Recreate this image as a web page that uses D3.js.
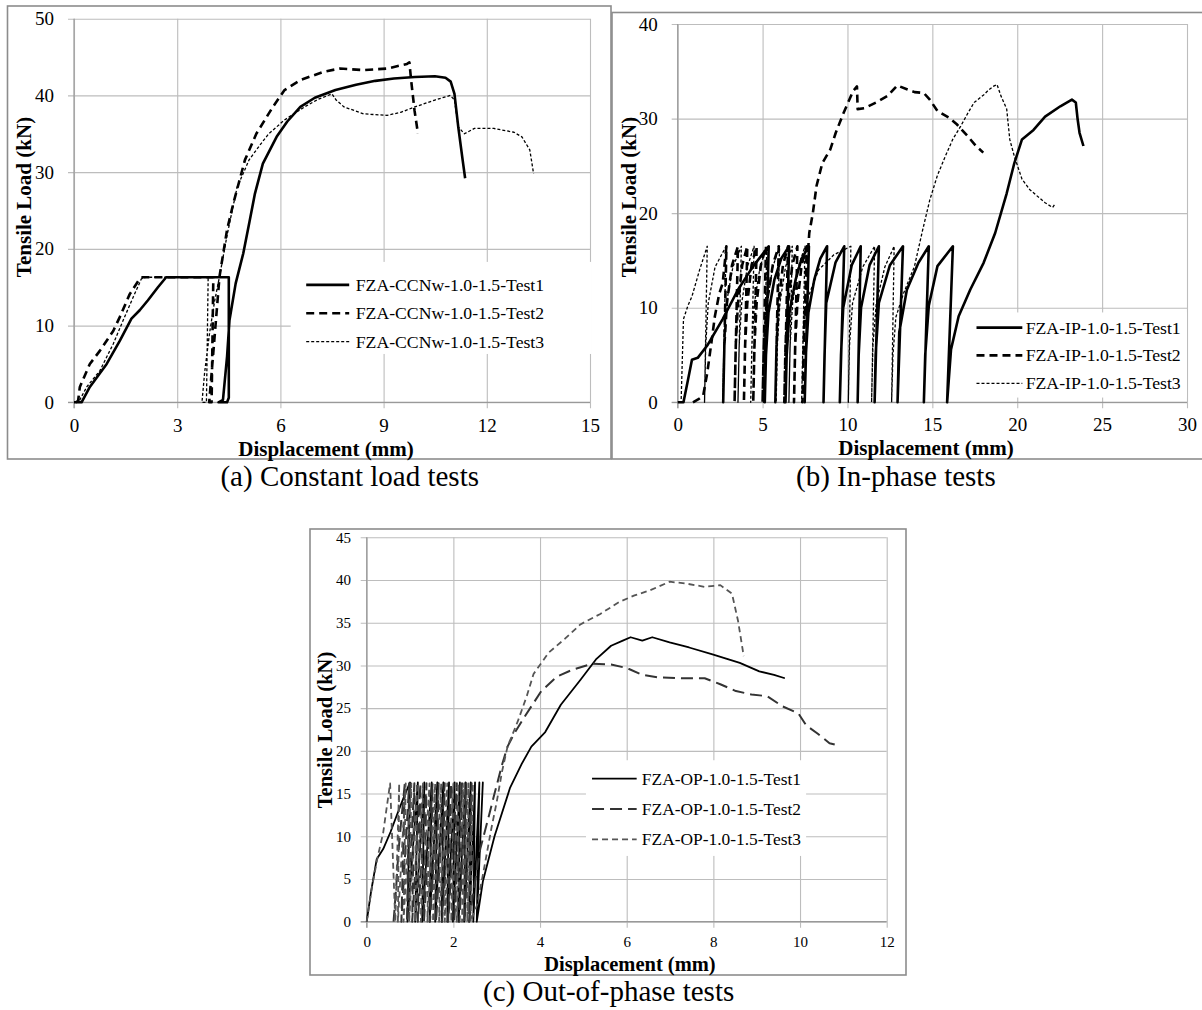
<!DOCTYPE html>
<html><head><meta charset="utf-8">
<script src="https://cdn.jsdelivr.net/npm/d3@7"></script>
<style>body{margin:0;background:#fff}svg{display:block}svg text{font-family:"Liberation Serif","Times New Roman","DejaVu Serif",serif !important;fill:#000}</style>
</head><body><svg id="c" width="1202" height="1010"></svg>
<script>
// ---------------- DATA ----------------
const seriesNamesA = ["FZA-CCNw-1.0-1.5-Test1","FZA-CCNw-1.0-1.5-Test2","FZA-CCNw-1.0-1.5-Test3"];
const seriesNamesB = ["FZA-IP-1.0-1.5-Test1","FZA-IP-1.0-1.5-Test2","FZA-IP-1.0-1.5-Test3"];
const seriesNamesC = ["FZA-OP-1.0-1.5-Test1","FZA-OP-1.0-1.5-Test2","FZA-OP-1.0-1.5-Test3"];
const captions = ["(a) Constant load tests","(b) In-phase tests","(c) Out-of-phase tests"];
const xTicksA = [0,3,6,9,12,15], yTicksA = [0,10,20,30,40,50];
const xTicksB = [0,5,10,15,20,25,30], yTicksB = [0,10,20,30,40];
const xTicksC = [0,2,4,6,8,10,12], yTicksC = [0,5,10,15,20,25,30,35,40,45];
const axisTitleX = "Displacement (mm)", axisTitleY = "Tensile Load (kN)";

const A_test1 = [[0,0],[0.22,0],[0.46,2],[0.95,5],[1.33,8],[1.67,10.9],[1.91,12],[2.15,13.3],[2.44,15],[2.68,16.3],[4.5,16.3],[4.5,0.6],[4.45,0],[4.2,0],[4.33,0.3],[4.45,6],[4.52,10.7],[4.7,15.5],[4.92,19.4],[5.1,23.5],[5.26,27.2],[5.49,31.1],[5.89,34.6],[6.2,36.6],[6.58,38.5],[7.0,39.7],[7.6,40.7],[8.2,41.4],[8.76,41.9],[9.3,42.2],[9.91,42.4],[10.49,42.5],[10.8,42.3],[10.95,41.8],[11.06,40.2],[11.17,35.9],[11.3,31.5],[11.37,29.2]];
const A_test2 = [[0.05,0],[0.12,0.2],[0.17,2],[0.46,5],[0.75,6.7],[1.14,9.3],[1.33,11.1],[1.62,14.1],[1.91,16.1],[2.0,16.3],[4.05,16.3],[4.0,0],[3.93,0],[4.05,6.5],[4.23,16.4],[4.45,22.5],[4.63,25.9],[4.97,31.6],[5.3,35],[5.78,38.5],[6.12,40.7],[6.58,42],[7.27,43.1],[7.73,43.5],[8.42,43.3],[9.1,43.5],[9.68,44.1],[9.75,44.3],[9.8,42],[9.9,38],[10.0,35]];
const A_test3 = [[0.05,0],[0.13,0],[0.37,2],[0.75,4.1],[1.14,7.6],[1.43,10.7],[1.72,13.7],[1.96,16.1],[2.1,16.3],[3.9,16.3],[3.85,0],[3.72,0],[3.8,4],[3.94,9],[4.08,13],[4.23,16.4],[4.46,22],[4.74,28],[5.09,31.6],[5.4,33.5],[5.66,35],[6.12,36.8],[6.7,38.5],[7.1,39.5],[7.5,40.2],[7.62,39.4],[7.85,38.5],[8.42,37.6],[9.1,37.4],[9.5,37.8],[9.91,38.5],[10.49,39.4],[10.94,40],[11.06,39.4],[11.17,35.9],[11.35,35],[11.64,35.7],[12.2,35.7],[12.79,35.2],[13.02,34.6],[13.25,32.9],[13.36,29.8]];

const B_test1 = [[0,0],[0.34,0],[0.61,2.4],[0.84,4.5],[1.18,4.7],[1.74,6],[2.65,8.8],[3.55,11.9],[4.45,14.4],[5.36,16.5],
[5.13,0],[5.2,5],[5.35,9.5],[5.7,13],[6.1,15.2],[6.56,16.5],
[6.35,0],[6.42,5],[6.58,9.5],[6.95,13],[7.3,15.2],[7.73,16.5],
[7.48,0],[7.55,5],[7.7,9.5],[8.05,13],[8.4,15.2],[8.8,16.5],
[8.59,0],[8.65,5],[8.75,10.5],[9.3,14.8],[9.81,16.5],
[9.55,0],[9.62,5],[9.75,10],[10.25,14.5],[10.78,16.5],
[10.6,0],[10.66,5],[10.8,10],[11.3,14.5],[11.85,16.5],
[11.6,0],[11.66,5],[11.85,10.5],[12.5,14.5],[13.27,16.5],
[12.95,0],[13.05,7.4],[13.5,11.9],[14.18,14.75],[14.79,16.5],
[14.5,0],[14.58,5],[14.79,10.2],[15.3,14.4],[16.21,16.5],
[15.87,0],[16.1,5.6],[16.55,9.1],[17.23,11.9],[18.02,14.75],[18.7,17.9],[19.38,22.1],[19.83,25.3],[20.28,27.8],[20.96,28.8],[21.64,30.2],[22.54,31.3],[23.22,32],[23.45,31.7],[23.56,29.9],[23.67,28.5],[23.9,27.1]];
const B_test2 = [[0.9,0],[1.2,0.3],[1.5,0.7],[1.74,3.1],[2.0,6.5],[2.19,9.1],[2.45,11.5],[2.65,12.6],[2.87,16.5],
[2.68,0],[2.75,6],[2.9,10.5],[3.2,14.5],[3.55,16.5],
[3.35,0],[3.42,6],[3.55,10.5],[3.8,14.5],[4.1,16.5],
[3.9,0],[3.97,6],[4.1,10.5],[4.35,14.5],[4.65,16.5],
[4.45,0],[4.52,6],[4.65,10.5],[4.9,14.5],[5.2,16.5],
[5.0,0],[5.07,6],[5.25,10.5],[5.6,14.5],[5.95,16.5],
[5.75,0],[5.82,6],[5.95,10.5],[6.2,14.5],[6.5,16.5],
[6.28,0],[6.35,6],[6.5,10.5],[6.75,14.5],[7.05,16.5],
[6.85,0],[6.92,6],[7.05,10.5],[7.3,14.5],[7.6,16.5],
[7.35,0],[7.45,8],[7.6,14],[7.75,17.9],[7.96,20],[8.18,22.9],[8.52,25.3],[8.98,26.7],[9.31,28.5],[9.77,30.6],[10.33,32.9],[10.56,33.4],[10.6,31],[11.0,31.1],[11.69,31.7],[12.37,32.4],[12.93,33.5],[13.5,33.1],[13.95,32.8],[14.5,32.7],[14.85,32],[15.3,30.8],[15.98,30.1],[16.44,29.4],[17.1,28.1],[17.57,27.1],[18.0,26.4]];
const B_test3 = [[0.1,0],[0.2,0],[0.34,8.8],[0.6,10.2],[0.84,11.2],[1.29,14],[1.74,16.5],
[1.58,0],[1.65,6],[1.8,10.5],[2.2,14.3],[2.85,16.5],
[2.65,0],[2.72,6],[2.87,10.5],[3.25,14.3],[3.75,16.5],
[3.55,0],[3.62,6],[3.77,10.5],[4.1,14.3],[4.5,16.5],
[4.3,0],[4.37,6],[4.52,10.5],[4.85,14.3],[5.25,16.5],
[5.05,0],[5.12,6],[5.27,10.5],[5.6,14.3],[6.0,16.5],
[5.8,0],[5.87,6],[6.02,10.5],[6.35,14.3],[6.75,16.5],
[6.55,0],[6.62,6],[6.77,10.5],[7.1,14.3],[7.5,16.5],
[7.3,0],[7.37,6],[7.55,10.5],[8.3,14],[9.2,15.6],[10.2,16.5],
[10.05,0],[10.12,6],[10.3,10.5],[10.9,14.3],[11.6,16.5],
[11.42,0],[11.5,6],[11.7,10.5],[12.2,14.3],[12.75,16.5],
[12.6,0],[12.68,5],[12.85,9],[13.3,11.5],[13.95,14.4],[14.4,18],[14.85,21.4],[15.3,24],[15.76,26],[16.2,27.8],[16.67,29.2],[17.1,30.6],[17.46,31.7],[18.02,32.5],[18.3,33],[18.58,33.4],[18.81,33.6],[19.04,32.4],[19.38,31],[19.56,27.8],[19.83,26],[20.28,23.6],[20.73,22.5],[21.18,21.8],[21.64,21.1],[22.09,20.6],[22.2,20.9]];

const C_test1 = [[0,0],[0.1,3.5],[0.23,7.3],[0.38,8.5],[0.55,10.5],[0.69,12.4],[0.85,14.5],[1.0,16.3],
[0.94,0],[1.18,16.3],[1.12,0],[1.33,16.3],[1.28,0],[1.5,16.3],[1.45,0],[1.63,16.3],[1.58,0],[1.77,16.3],[1.73,0],[1.9,16.3],[1.86,0],[2.03,16.3],[1.99,0],[2.15,16.3],[2.12,0],[2.28,16.3],[2.25,0],[2.4,16.3],[2.37,0],[2.5,16.3],[2.46,0],[2.6,16.3],[2.54,0],[2.68,16.3],
[2.54,0],[2.68,4.7],[2.95,10],[3.31,15.7],[3.58,18.5],[3.8,20.5],[4.12,22.2],[4.48,25.4],[4.93,28.3],[5.29,30.7],[5.64,32.3],[5.91,32.9],[6.09,33.3],[6.36,32.9],[6.59,33.3],[6.99,32.7],[7.44,32.1],[7.98,31.3],[8.61,30.3],[9.06,29.3],[9.4,28.9],[9.65,28.5]];
const C_test2 = [[0.62,0],[0.68,4],[0.73,8],[0.8,12],[0.88,16.2],[0.8,0],[0.98,16.2],[0.93,0],[1.1,16.2],[1.05,0],[1.24,16.2],[1.18,0],[1.38,16.2],[1.32,0],[1.52,16.2],[1.46,0],[1.66,16.2],[1.6,0],[1.8,16.2],[1.74,0],[1.95,16.2],[1.88,0],[2.08,16.2],[2.02,0],[2.2,16.2],[2.14,0],[2.3,16.2],[2.26,0],[2.42,16.2],[2.36,0],
[2.48,4],[2.62,8.5],[2.8,12],[2.95,15],[3.13,18.5],[3.25,20.5],[3.4,22],[3.67,24.2],[4.03,27],[4.39,28.7],[4.75,29.5],[5.2,30.2],[5.64,30.1],[6.0,29.7],[6.36,28.9],[6.72,28.6],[7.26,28.5],[7.8,28.5],[8.16,27.8],[8.52,27],[8.88,26.6],[9.24,26.4],[9.6,25.2],[9.96,24.4],[10.14,23],[10.41,22],[10.68,20.9],[10.9,20.6]];
const C_test3 = [[0,0],[0.12,4],[0.25,7.5],[0.38,10.4],[0.54,16.2],[0.66,0],[0.75,16.2],[0.72,0],[0.9,16.2],[0.85,0],[1.03,16.2],[0.98,0],[1.16,16.2],[1.12,0],[1.3,16.2],[1.25,0],[1.45,16.2],[1.4,0],[1.58,16.2],[1.53,0],[1.72,16.2],[1.67,0],[1.86,16.2],[1.8,0],[2.0,16.2],[1.95,0],[2.12,16.2],[2.08,0],[2.25,16.2],[2.2,0],[2.35,16.2],[2.32,0],[2.45,16.2],[2.4,0],
[2.55,2],[2.7,6],[2.88,11],[3.0,14],[3.12,17.5],[3.25,20.5],[3.49,23.5],[3.7,26.5],[3.85,29],[4.2,31.5],[4.57,33.1],[4.93,34.8],[5.38,36],[5.82,37.4],[6.18,38.2],[6.54,38.8],[6.99,39.8],[7.35,39.6],[7.8,39.2],[8.16,39.4],[8.43,38.4],[8.57,35.2],[8.7,31.1]];

// ---------------- DRAWING ----------------
const FONT = '"Liberation Serif","Times New Roman","DejaVu Serif",serif';
const svg = d3.select("#c");
svg.append("rect").attr("width",1202).attr("height",1010).attr("fill","#fff");

const styleAB = [
  {stroke:"#000", w:2.6, dash:null},
  {stroke:"#000", w:2.6, dash:"8,5"},
  {stroke:"#000", w:1.3, dash:"3,2"}
];
const styleC = [
  {stroke:"#000", w:1.8, dash:null},
  {stroke:"#333", w:2.0, dash:"12,6"},
  {stroke:"#555", w:1.8, dash:"6,4"}
];

function panel(cfg){
  const g = svg.append("g").attr("font-family",FONT);
  g.append("rect").attr("x",cfg.frame[0]).attr("y",cfg.frame[1]).attr("width",cfg.frame[2]).attr("height",cfg.frame[3])
    .attr("fill","none").attr("stroke","#8c8c8c").attr("stroke-width",1.6);
  const x = d3.scaleLinear().domain(cfg.xDom).range(cfg.xr);
  const y = d3.scaleLinear().domain(cfg.yDom).range(cfg.yr);
  const pw = cfg.xr[1]-cfg.xr[0], ph = cfg.yr[0]-cfg.yr[1];
  const ya = g.append("g").attr("transform",`translate(${cfg.xr[0]},0)`)
    .call(d3.axisLeft(y).tickValues(cfg.yTicks).tickSizeInner(-pw).tickSizeOuter(0).tickPadding(cfg.ypad));
  ya.attr("font-family",FONT).attr("font-size",cfg.tickFs);
  ya.select(".domain").remove();
  ya.selectAll(".tick line").attr("x1",-6).attr("stroke","#bdbdbd").attr("stroke-width",1.1);
  ya.selectAll(".tick text").style("font-family",FONT).style("font-size",cfg.tickFs+"px").attr("fill","#000");
  const xa = g.append("g").attr("transform",`translate(0,${cfg.yr[0]})`)
    .call(d3.axisBottom(x).tickValues(cfg.xTicks).tickSizeInner(-ph).tickSizeOuter(0).tickPadding(cfg.xpad));
  xa.attr("font-family",FONT).attr("font-size",cfg.tickFs);
  xa.select(".domain").remove();
  xa.selectAll(".tick line").attr("y1",6).attr("stroke","#bdbdbd").attr("stroke-width",1.1);
  xa.selectAll(".tick text").style("font-family",FONT).style("font-size",cfg.tickFs+"px").attr("fill","#000");
  g.append("line").attr("x1",x(cfg.xDom[0])-6).attr("x2",x(cfg.xDom[1])).attr("y1",y(0)).attr("y2",y(0)).attr("stroke","#999").attr("stroke-width",1.2);
  g.append("line").attr("x1",x(0)).attr("x2",x(0)).attr("y1",y(cfg.yDom[1])).attr("y2",y(0)+6).attr("stroke","#999").attr("stroke-width",1.2);
  const L = cfg.legend;
  g.append("rect").attr("x",x(L.box[0])).attr("y",y(L.box[3])).attr("width",x(L.box[1])-x(L.box[0])).attr("height",y(L.box[2])-y(L.box[3])).attr("fill","#fff");
  const line = d3.line().x(d=>x(d[0])).y(d=>y(d[1]));
  cfg.series.forEach((s,i)=>{
    const st = cfg.styles[i];
    g.append("path").datum(s).attr("d",line).attr("fill","none").attr("stroke",st.stroke)
      .attr("stroke-width",st.w).attr("stroke-dasharray",st.dash).attr("stroke-linejoin","round");
  });
  cfg.names.forEach((n,i)=>{
    const st = cfg.styles[i];
    const yy = y(L.ys[i]);
    g.append("line").attr("x1",x(L.lx[0])).attr("x2",x(L.lx[1])).attr("y1",yy).attr("y2",yy)
      .attr("stroke",st.stroke).attr("stroke-width",st.w).attr("stroke-dasharray",st.dash);
    g.append("text").attr("x",x(L.tx)).attr("y",yy).attr("dy","0.34em").style("font-size",L.fs+"px").text(n);
  });
  g.append("text").attr("x",cfg.xt[0]).attr("y",cfg.xt[1]).attr("text-anchor","middle")
    .style("font-size",cfg.titleFs+"px").style("font-weight","bold").text(axisTitleX);
  g.append("text").attr("transform",`translate(${cfg.yt[0]},${cfg.yt[1]}) rotate(-90)`).attr("text-anchor","middle").attr("dy","0.35em")
    .style("font-size",cfg.titleFs+"px").style("font-weight","bold").text(axisTitleY);
}

panel({frame:[7.5,6,603.5,453], xDom:[0,15], yDom:[0,50], xr:[74,590], yr:[402.3,18.7],
  xTicks:xTicksA, yTicks:yTicksA, tickFs:19, ypad:20, xpad:16, titleFs:21,
  xt:[326,455.5], yt:[24,197],
  series:[A_test1,A_test2,A_test3], styles:styleAB, names:seriesNamesA,
  legend:{box:[6.3,15.05,6.3,18.3], ys:[15.3,11.6,7.9], lx:[6.75,8.0], tx:8.19, fs:17.7}});

panel({frame:[612,12.5,600,446.5], xDom:[0,30], yDom:[0,40], xr:[677.7,1187], yr:[402.3,24],
  xTicks:xTicksB, yTicks:yTicksB, tickFs:19, ypad:20, xpad:15.5, titleFs:21,
  xt:[926,455], yt:[628.6,197],
  series:[B_test1,B_test2,B_test3], styles:styleAB, names:seriesNamesB,
  legend:{box:[17.1,30,0.5,9.5], ys:[7.9,4.96,2.0], lx:[17.6,20.3], tx:20.5, fs:17.7}});

panel({frame:[310,529,596,446], xDom:[0,12], yDom:[0,45], xr:[366.7,886.7], yr:[921.7,537.3],
  xTicks:xTicksC, yTicks:yTicksC, tickFs:15, ypad:15.6, xpad:15, titleFs:20.5,
  xt:[630,971], yt:[325,730],
  series:[C_test1,C_test2,C_test3], styles:styleC, names:seriesNamesC,
  legend:{box:[5.06,10.14,7.7,18.9], ys:[16.75,13.2,9.63], lx:[5.2,6.23], tx:6.35, fs:17.4}});

svg.append("g").attr("font-family",FONT).selectAll("text").data([[479,486,"end"],[796,486,"start"],[483,1001,"start"]])
  .join("text").attr("x",d=>d[0]).attr("y",d=>d[1]).attr("text-anchor",d=>d[2]).style("font-size","29px").text((d,i)=>captions[i]);
</script></body></html>
